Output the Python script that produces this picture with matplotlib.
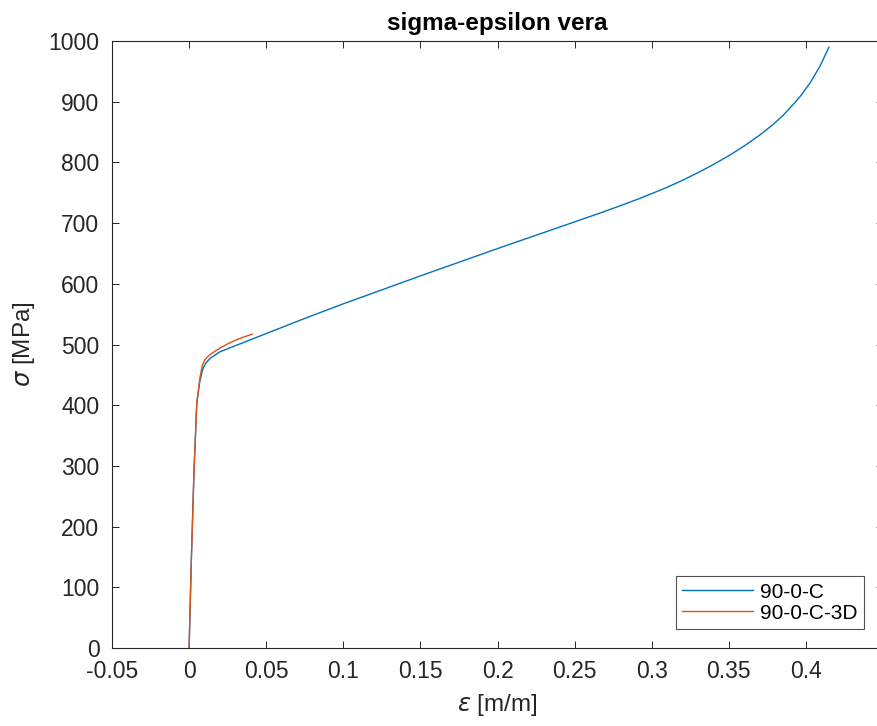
import numpy as np
import matplotlib.pyplot as plt

plt.rcParams['font.family'] = ['Liberation Sans', 'DejaVu Sans']
plt.rcParams['mathtext.fontset'] = 'dejavusans'

# true stress-strain, full test
eps_c = [0, 0.0015, 0.0032, 0.005, 0.007, 0.0087, 0.0095, 0.011, 0.0136, 0.017,
         0.020, 0.025, 0.030, 0.035, 0.041, 0.050, 0.073, 0.100, 0.150, 0.200,
         0.250, 0.267, 0.280, 0.290, 0.300, 0.310, 0.320, 0.330, 0.340, 0.350,
         0.360, 0.370, 0.378, 0.385, 0.392, 0.397, 0.403, 0.409, 0.415]
sig_c = [0, 150, 293, 404, 440, 458, 463, 470, 477, 483,
         488, 493, 498, 503, 509, 518, 541, 567, 613, 658,
         702, 717, 729, 738.5, 748.5, 759, 770.5, 783, 796.5, 811,
         827, 845, 861, 877, 896, 911, 932, 958, 990]

# true stress-strain, 3D measurement
eps_3d = [0, 0.0015, 0.0032, 0.005, 0.007, 0.0085, 0.010, 0.012, 0.015, 0.020,
          0.025, 0.030, 0.035, 0.041]
sig_3d = [0, 150, 293, 404, 445, 465, 474, 480, 486, 494,
          501, 507, 512, 517]

names = ['90-0-C', '90-0-C-3D']
xticks = [-0.05, 0, 0.05, 0.1, 0.15, 0.2, 0.25, 0.3, 0.35, 0.4]
xtick_labels = ['-0.05', '0', '0.05', '0.1', '0.15', '0.2', '0.25', '0.3', '0.35', '0.4']
yticks = np.arange(0, 1001, 100)

ink = '#262626'
fig = plt.figure(figsize=(8.77, 7.26), dpi=100)
ax = fig.add_axes([112 / 877, 1 - 648 / 726, (883 - 112) / 877, (648 - 41) / 726])

ax.plot(eps_c, sig_c, color='#0072BD', lw=1.0, label=names[0])
ax.plot(eps_3d, sig_3d, color='#D95319', lw=1.0, label=names[1])

ax.set_xlim(-0.05, 0.45)
ax.set_ylim(0, 1000)
ax.set_xticks(xticks)
ax.set_xticklabels(xtick_labels)
ax.set_yticks(yticks)
ax.tick_params(direction='in', length=5, width=0.7, top=True, right=True,
               labelsize=16.5, colors=ink)
ax.tick_params(axis='x', pad=9)
ax.tick_params(axis='y', pad=9)
for s in ax.spines.values():
    s.set_color(ink)
    s.set_linewidth(0.8)

ax.set_title('sigma-epsilon vera', fontsize=17.5, fontweight='bold', color='black', pad=8)
ax.set_xlabel(r'$\epsilon$ [m/m]', fontsize=17.5, color=ink, labelpad=6)
ax.set_ylabel(r'$\sigma$ [MPa]', fontsize=17.5, color=ink, labelpad=8)

leg = ax.legend(loc='lower right', bbox_to_anchor=(864 / 877, 1 - 629 / 726),
                bbox_transform=fig.transFigure, fontsize=15, frameon=True,
                fancybox=False, handlelength=3.4, handletextpad=0.35,
                borderpad=0.3, labelspacing=0.1, borderaxespad=0)
leg.get_frame().set_edgecolor(ink)
leg.get_frame().set_linewidth(0.8)

fig.savefig('out.png', dpi=100)
